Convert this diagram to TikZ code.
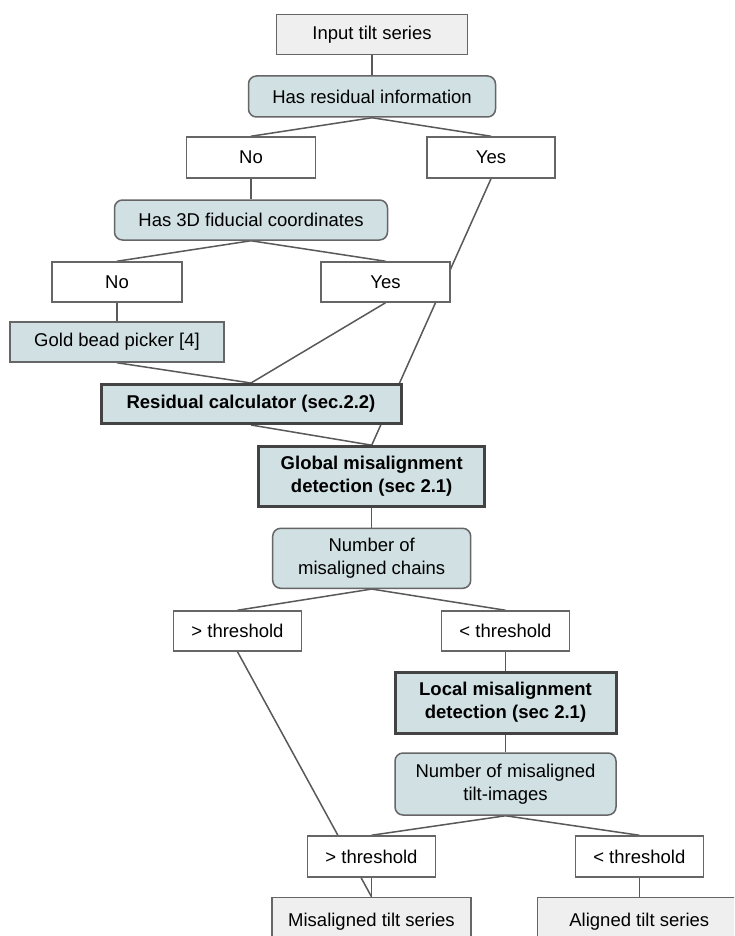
\documentclass[tikz,border=0pt]{standalone}
\usepackage{fontspec}
\setmainfont{Liberation Sans}
\usetikzlibrary{backgrounds}
\definecolor{grayfill}{HTML}{EFEFEF}
\definecolor{bluefill}{HTML}{D0E0E3}
\definecolor{bordc}{HTML}{666666}
\definecolor{thickc}{HTML}{434343}
\definecolor{linec}{HTML}{595959}
\tikzset{
  box/.style={draw=bordc, line width=1.5pt, inner sep=0pt, align=center,
    font=\fontsize{18.5}{23}\selectfont, text=black},
  plainbox/.style={box, fill=white},
  graybox/.style={box, fill=grayfill},
  bluebox/.style={box, fill=bluefill},
  roundbox/.style={box, fill=bluefill, rounded corners=8pt},
  boldbox/.style={box, fill=bluefill, draw=thickc, line width=3pt,
    font=\fontsize{18.5}{23}\selectfont\bfseries},
  conn/.style={draw=linec, line width=1.5pt}
}
\begin{document}
\begin{tikzpicture}[x=1pt, y=-1pt]
\useasboundingbox (0,0) rectangle (734,936);
\clip (0,0) rectangle (734,936);

\node[graybox, minimum width=191pt, minimum height=40pt] (input) at (372,34.5) {Input tilt series};
\node[roundbox, minimum width=247pt, minimum height=41pt] (hasres) at (372,96.5) {Has residual information};
\node[plainbox, minimum width=129pt, minimum height=41pt] (no1) at (251,157.5) {No};
\node[plainbox, minimum width=128pt, minimum height=41pt] (yes1) at (491,157.5) {Yes};
\node[roundbox, minimum width=273pt, minimum height=40pt] (has3d) at (251,220) {Has 3D fiducial coordinates};
\node[plainbox, minimum width=130pt, minimum height=40pt] (no2) at (117,282) {No};
\node[plainbox, minimum width=129pt, minimum height=40pt] (yes2) at (385.5,282) {Yes};
\node[bluebox, minimum width=214pt, minimum height=40pt] (gold) at (117,342) {Gold bead picker [4]};
\node[boldbox, minimum width=300pt, minimum height=39pt] (resid) at (251,404) {Residual calculator (sec.2.2)};
\node[boldbox, minimum width=226pt, minimum height=60pt] (global) at (371.7,476.7) {Global misalignment\\detection (sec 2.1)};
\node[roundbox, minimum width=198pt, minimum height=60pt] (chains) at (371.7,558.3) {Number of\\misaligned chains};
\node[plainbox, minimum width=128pt, minimum height=40pt] (gt1) at (237.5,631) {> threshold};
\node[plainbox, minimum width=128pt, minimum height=40pt] (lt1) at (505.5,631) {< threshold};
\node[boldbox, minimum width=221pt, minimum height=61pt] (local) at (505.5,702.5) {Local misalignment\\detection (sec 2.1)};
\node[roundbox, minimum width=221pt, minimum height=62pt] (tiltimg) at (505.5,784) {Number of misaligned\\tilt-images};
\node[plainbox, minimum width=128pt, minimum height=41pt] (gt2) at (371.5,856.5) {> threshold};
\node[plainbox, minimum width=128pt, minimum height=41pt] (lt2) at (639.3,856.5) {< threshold};
\node[graybox, minimum width=199pt, minimum height=48pt] (mis) at (371.5,921.5) {\raisebox{4pt}{Misaligned tilt series}};
\node[graybox, minimum width=204pt, minimum height=48pt] (aligned) at (639.3,921.5) {\raisebox{4pt}{Aligned tilt series}};

\begin{scope}[on background layer]
\fill[white] (0,0) rectangle (734,936);
\draw[conn] (input.south) -- (hasres.north);
\draw[conn] (hasres.south) -- (no1.north);
\draw[conn] (hasres.south) -- (yes1.north);
\draw[conn] (no1.south) -- (has3d.north);
\draw[conn] (has3d.south) -- (no2.north);
\draw[conn] (has3d.south) -- (yes2.north);
\draw[conn] (no2.south) -- (gold.north);
\draw[conn] (gold.south) -- (resid.north);
\draw[conn] (yes2.south) -- (resid.north);
\draw[conn] (yes1.south) -- (global.north);
\draw[conn] (resid.south) -- (global.north);
\draw[conn] (global.south) -- (chains.north);
\draw[conn] (chains.south) -- (gt1.north);
\draw[conn] (chains.south) -- (lt1.north);
\draw[conn] (lt1.south) -- (local.north);
\draw[conn] (local.south) -- (tiltimg.north);
\draw[conn] (tiltimg.south) -- (gt2.north);
\draw[conn] (tiltimg.south) -- (lt2.north);
\draw[conn] (gt1.south) -- (mis.north);
\draw[conn] (gt2.south) -- (mis.north);
\draw[conn] (lt2.south) -- (aligned.north);
\end{scope}
\end{tikzpicture}
\end{document}
